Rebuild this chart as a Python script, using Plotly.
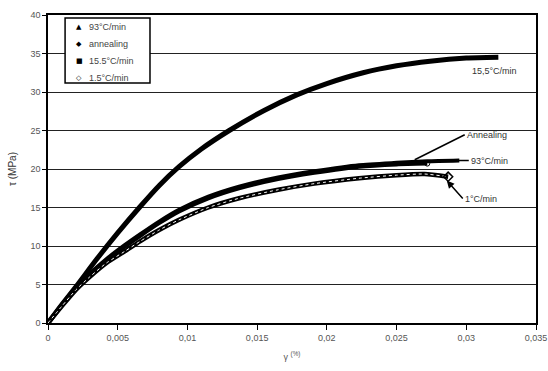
import plotly.graph_objects as go

# --- data ---
x_155 = [0, 0.001, 0.002, 0.0035, 0.005, 0.0066, 0.008, 0.0094, 0.011, 0.013, 0.0155, 0.0178, 0.020, 0.0226, 0.025, 0.0274, 0.030, 0.0323]
y_155 = [0, 2.4, 4.7, 8.3, 11.7, 15.1, 17.9, 20.3, 22.6, 25.0, 27.6, 29.6, 31.1, 32.5, 33.4, 34.0, 34.4, 34.5]

x_93 = [0, 0.001, 0.002, 0.003, 0.0042, 0.0055, 0.0066, 0.008, 0.0094, 0.0115, 0.0137, 0.0165, 0.0191, 0.0223, 0.025, 0.0272, 0.0295]
y_93 = [0, 2.4, 4.6, 6.4, 8.3, 10.1, 11.5, 13.2, 14.7, 16.4, 17.7, 18.9, 19.7, 20.5, 20.8, 21.0, 21.1]

x_ann = [0, 0.001, 0.002, 0.003, 0.0042, 0.0055, 0.0066, 0.008, 0.0094, 0.0115, 0.0137, 0.0165, 0.0191, 0.0223, 0.025, 0.0272]
y_ann = [0, 2.3, 4.5, 6.2, 8.1, 9.9, 11.3, 13.0, 14.5, 16.2, 17.5, 18.7, 19.5, 20.3, 20.6, 20.7]

x_15 = [0, 0.001, 0.002, 0.003, 0.0042, 0.0055, 0.0066, 0.008, 0.0094, 0.0115, 0.0137, 0.0165, 0.0191, 0.0223, 0.025, 0.0270, 0.0287]
y_15 = [0, 2.2, 4.3, 6.0, 7.8, 9.3, 10.6, 12.1, 13.4, 15.0, 16.2, 17.3, 18.1, 18.8, 19.2, 19.35, 19.0]

x_tick_vals = [0, 0.005, 0.01, 0.015, 0.02, 0.025, 0.03, 0.035]
x_tick_text = ["0", "0,005", "0,01", "0,015", "0,02", "0,025", "0,03", "0,035"]
y_tick_vals = [0, 5, 10, 15, 20, 25, 30, 35, 40]

legend_names = ["93°C/min", "annealing", "15.5°C/min", "1.5°C/min"]
legend_glyphs = ["▲", "◆", "■", "◇"]

fig = go.Figure()

# curves
fig.add_trace(go.Scatter(x=x_155, y=y_155, mode="lines", name="15.5°C/min",
                         line=dict(color="black", width=5, shape="spline", smoothing=0.6), showlegend=False))
fig.add_trace(go.Scatter(x=x_93, y=y_93, mode="lines", name="93°C/min",
                         line=dict(color="black", width=4, shape="spline", smoothing=0.6), showlegend=False))
fig.add_trace(go.Scatter(x=x_ann, y=y_ann, mode="lines", name="annealing",
                         line=dict(color="black", width=4, shape="spline", smoothing=0.6), showlegend=False))
fig.add_trace(go.Scatter(x=x_15, y=y_15, mode="lines", name="1.5°C/min",
                         line=dict(color="black", width=4.5, shape="spline", smoothing=0.6), showlegend=False))
fig.add_trace(go.Scatter(x=x_15, y=y_15, mode="lines",
                         line=dict(color="white", width=1, dash="dot", shape="spline", smoothing=0.6), showlegend=False))
fig.add_trace(go.Scatter(x=[x_15[-1]], y=[y_15[-1]], mode="markers",
                         marker=dict(symbol="diamond-open", color="black", size=7, line=dict(width=1.5)), showlegend=False))
fig.add_trace(go.Scatter(x=[x_ann[-1]], y=[y_ann[-1]], mode="markers",
                         marker=dict(symbol="circle-open", color="black", size=5, line=dict(width=1)), showlegend=False))

font_lbl = dict(family="Liberation Sans, Arial", size=9, color="#333")

# manual legend box
fig.add_shape(type="rect", xref="paper", yref="paper", x0=0.035, x1=0.209, y0=0.779, y1=0.990,
              line=dict(color="black", width=1.5), fillcolor="white", layer="above")
leg_y = [0.961, 0.907, 0.852, 0.797]
for name, glyph, yy in zip(legend_names, legend_glyphs, leg_y):
    fig.add_annotation(xref="paper", yref="paper", x=0.064, y=yy, text=glyph, showarrow=False,
                       xanchor="center", yanchor="middle", font=dict(family="DejaVu Sans", size=7, color="black"))
    fig.add_annotation(xref="paper", yref="paper", x=0.080, y=yy, text=name, showarrow=False,
                       xanchor="left", yanchor="middle", font=dict(family="Liberation Sans, Arial", size=9, color="#444"))

fig.add_annotation(x=0.0303, y=32.7, text="15,5°C/min", showarrow=False, xanchor="left", yanchor="middle", font=font_lbl)
fig.add_annotation(x=0.0263, y=21.2, text="Annealing", showarrow=True, arrowhead=0, arrowwidth=1.5,
                   arrowcolor="black", ax=50, ay=-25, xanchor="left", yanchor="middle", font=font_lbl)
fig.add_annotation(x=0.0286, y=21.1, text="93°C/min", showarrow=True, arrowhead=0, arrowwidth=1.5,
                   arrowcolor="black", ax=22, ay=0, xanchor="left", yanchor="middle", font=font_lbl)
fig.add_annotation(x=0.0286, y=18.5, text="1°C/min", showarrow=True, arrowhead=2, arrowwidth=1.5,
                   arrowcolor="black", ax=16, ay=18, xanchor="left", yanchor="middle", font=font_lbl)

fig.update_layout(
    width=548, height=371,
    margin=dict(l=48, r=12, t=15, b=48),
    paper_bgcolor="white", plot_bgcolor="white",
    font=dict(family="Liberation Sans, Arial", size=9, color="#555"),
    showlegend=False,
    xaxis=dict(range=[0, 0.035], tickvals=x_tick_vals, ticktext=x_tick_text, automargin=False,
               showgrid=False, zeroline=False, showline=True, linecolor="black", linewidth=1.5,
               mirror=True, ticks="outside", ticklen=5, tickcolor="black",
               title=dict(text="γ <sup>(%)</sup>", font=dict(size=9, color="#555"), standoff=12)),
    yaxis=dict(range=[0, 40], tickvals=y_tick_vals, showgrid=True, gridcolor="#222", gridwidth=1,
               automargin=False,
               zeroline=False, showline=True, linecolor="black", linewidth=1.5, mirror=True,
               ticks="outside", ticklen=4, tickcolor="black",
               title=dict(text="τ (MPa)", font=dict(size=10, color="#333"), standoff=12)),
)

fig.write_html("out.html", post_script="document.body.style.margin='0';",
               config={"displayModeBar": False})
